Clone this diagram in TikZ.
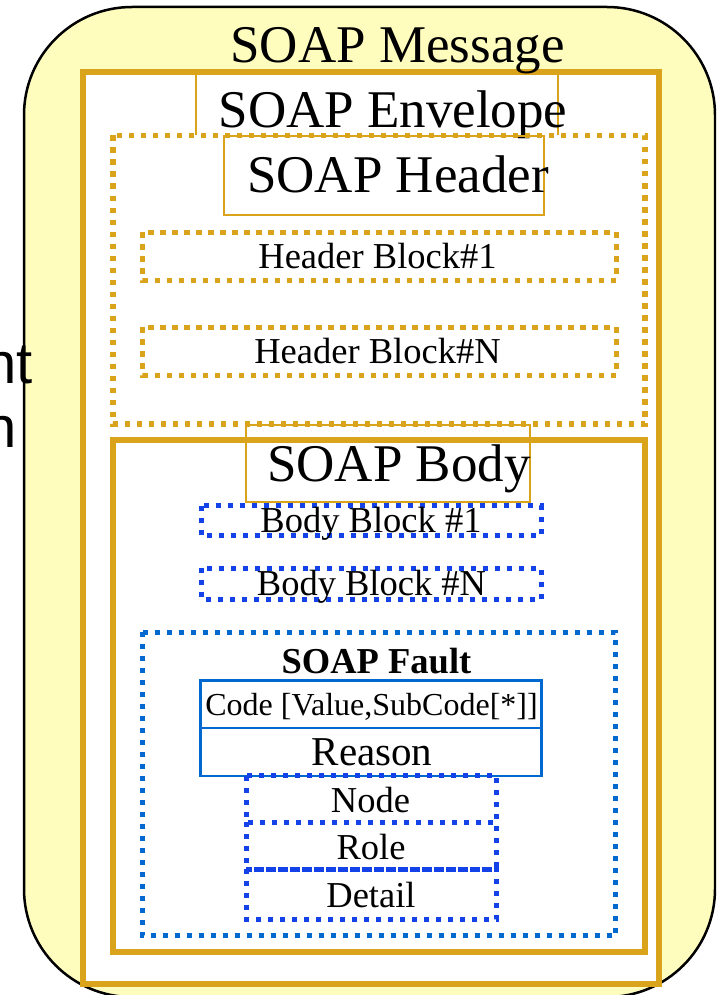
\documentclass[tikz,border=0pt]{standalone}
\usepackage{fontspec}
\setmainfont{Liberation Serif}
\newfontfamily\sidesans{Liberation Sans}
\definecolor{envgold}{RGB}{218,163,28}
\definecolor{msgyellow}{RGB}{255,253,190}
\definecolor{blockblue}{RGB}{18,66,232}
\definecolor{faultblue}{RGB}{0,104,206}
\tikzset{
  solidgold/.style={draw=envgold, line width=6pt},
  thingold/.style={draw=envgold, line width=2pt},
  dotgold/.style={draw=envgold, line width=5.5pt, dash pattern=on 5.5pt off 6.5pt},
  dotblue/.style={draw=blockblue, line width=5pt, dash pattern=on 5pt off 7pt},
  dotfault/.style={draw=faultblue, line width=5pt, dash pattern=on 5pt off 7pt},
  faultline/.style={draw=faultblue, line width=2.5pt},
  txt/.style={anchor=base, inner sep=0pt, outer sep=0pt},
  bigtxt/.style={txt, font=\fontsize{53}{60}\selectfont},
  midtxt/.style={txt, font=\fontsize{36.5}{42}\selectfont},
  sidetxt/.style={anchor=base east, inner sep=0pt, font=\sidesans\fontsize{58}{64}\selectfont}
}
\begin{document}
\begin{tikzpicture}[x=1pt,y=-1pt]
\useasboundingbox (0,0) rectangle (716,995);
\clip (0,0) rectangle (716,995);

% message background
\draw[fill=msgyellow, draw=black, line width=2.5pt, rounded corners=108pt]
  (24,7) rectangle (715,997);

% side labels running off the left edge
\node[sidetxt] (sideA) at (33,383) {nt};
\node[sidetxt] (sideB) at (17,447) {n};

% envelope
\draw[solidgold, fill=white] (83,72) rectangle (659,984);
\draw[thingold] (196,135) -- (196,72) -- (558,72) -- (558,135);
\node[bigtxt] (msglabel) at (397.5,63) {SOAP Message};
\node[bigtxt] (envlabel) at (393,128) {SOAP Envelope};

% header
\draw[dotgold] (113,135.5) rectangle (645,424);
\draw[thingold] (224,136) rectangle (544,215);
\node[bigtxt] (hdrlabel) at (398,193) {SOAP Header};
\draw[dotgold, line width=5pt] (142.5,232) rectangle (616,280);
\node[midtxt] (hblockA) at (377.5,268) {Header Block\#1};
\draw[dotgold, line width=5pt] (142.5,327) rectangle (616,375);
\node[midtxt] (hblockN) at (377.5,363) {Header Block\#N};

% body
\draw[solidgold] (113,440) rectangle (645,951.5);
\draw[thingold] (246,425) rectangle (530,502);
\node[bigtxt] (bodylabel) at (399,481) {SOAP Body};
\draw[dotblue] (201,505.5) rectangle (541,535.5);
\node[midtxt] (bblockA) at (371,532) {Body Block \#1};
\draw[dotblue] (201,568) rectangle (541,599.5);
\node[midtxt] (bblockN) at (371.5,595) {Body Block \#N};

% fault
\draw[dotfault] (142,632) rectangle (615.5,935.5);
\node[midtxt, font=\fontsize{36.5}{42}\selectfont\bfseries] (faultlabel) at (376.5,673) {SOAP Fault};
\draw[faultline] (200.5,680.5) rectangle (541.5,728);
\draw[faultline] (200.5,728) rectangle (541.5,776);
\node[txt, font=\fontsize{32}{38}\selectfont] (code) at (371.5,715) {Code [Value,SubCode[*]]};
\node[txt, font=\fontsize{41}{46}\selectfont] (reason) at (372,765) {Reason};
\draw[dotblue] (246,775.5) rectangle (496.5,822);
\draw[dotblue] (246,822) rectangle (496.5,869);
\draw[dotblue] (246,869) rectangle (496.5,919);
\node[midtxt] (nodefield) at (370.5,812) {Node};
\node[midtxt] (rolefield) at (371,859) {Role};
\node[midtxt] (detailfield) at (371,907) {Detail};
\end{tikzpicture}
\end{document}
